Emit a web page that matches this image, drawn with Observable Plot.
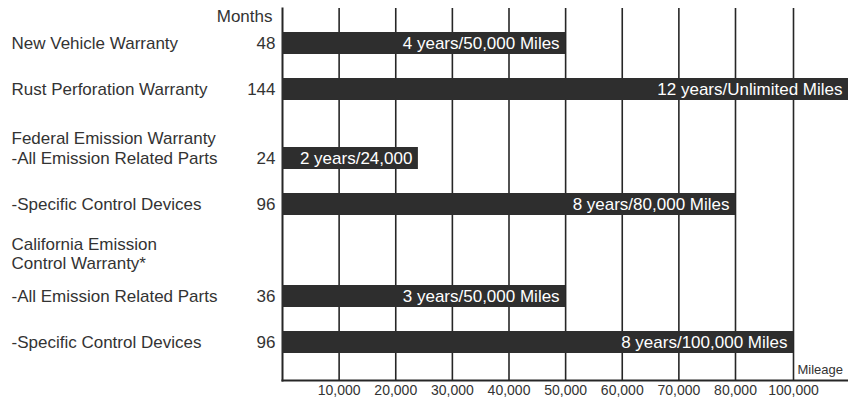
<!DOCTYPE html>
<html><head><meta charset="utf-8">
<script src="https://cdn.jsdelivr.net/npm/d3@7"></script>
<script src="https://cdn.jsdelivr.net/npm/@observablehq/plot@0.6"></script>
<style>body{margin:0;background:#fff;} svg{display:block;}</style>
</head><body><div id="chart"></div>
<script>
// ---- data ----
const rowKeys = ["nv", "rust", "fedAll", "fedSpec", "calAll", "calSpec"];
const rowLabels = ["New Vehicle Warranty", "Rust Perforation Warranty", "-All Emission Related Parts", "-Specific Control Devices", "-All Emission Related Parts", "-Specific Control Devices"];
const months = [48, 144, 24, 96, 36, 96];
const mileage = [50000, null, 24000, 80000, 50000, 100000]; // null = unlimited
const barLabels = ["4 years/50,000 Miles", "12 years/Unlimited Miles", "2 years/24,000", "8 years/80,000 Miles", "3 years/50,000 Miles", "8 years/100,000 Miles"];
const groupKeys = ["fedH", "calH"];
const groupLabels = ["Federal Emission Warranty", "California Emission\nControl Warranty*"];
const xTicks = [10000, 20000, 30000, 40000, 50000, 60000, 70000, 80000, 100000];

// ---- layout ----
const W = 848, H = 407;
const xMax = 120000; // right edge (unlimited)
const yDomain = ["nv","g1","rust","g2","fedH","fedAll","g3","fedSpec","g4","calH","g5","calAll","g6","calSpec"];
const rows = rowKeys.map((k, i) => ({key: k, label: rowLabels[i], months: months[i], x2: mileage[i] ?? xMax, barLabel: barLabels[i]}));
const groups = groupKeys.map((k, i) => ({key: k, label: groupLabels[i]}));
const ink = "#333";
const font = "'Liberation Sans', Arial, sans-serif";
const fmt = d3.format(",");

const chart = Plot.plot({
  width: W, height: H,
  marginLeft: 282, marginRight: 55, marginTop: 8, marginBottom: 27,
  style: {fontFamily: font, fontSize: "17px", color: ink, background: "white"},
  x: {type: "linear", domain: [0, 80000, 100000, xMax], range: [282, 735, 793, 848]},
  y: {type: "band", domain: yDomain, range: [28, 357], paddingInner: 0.064, paddingOuter: 0.032, axis: null},
  marks: [
    Plot.ruleX(xTicks, {stroke: "#262626", strokeWidth: 1.6}),
    Plot.frame({anchor: "left", stroke: "#262626", strokeWidth: 2}),
    Plot.frame({anchor: "bottom", stroke: "#262626", strokeWidth: 2, insetRight: -55}),
    Plot.barX(rows, {y: "key", x1: 0, x2: "x2", fill: "#2e2e2e"}),
    Plot.text(rows, {y: "key", x: "x2", text: "barLabel", textAnchor: "end", dx: -6, fill: "white", fontSize: 17}),
    Plot.text(rows, {y: "key", text: "label", frameAnchor: "left", dx: -271, textAnchor: "start", fill: ink, fontSize: 17}),
    Plot.text(rows, {y: "key", text: "months", frameAnchor: "left", dx: -7, textAnchor: "end", fill: ink, fontSize: 17}),
    Plot.text(groups, {y: "key", text: "label", frameAnchor: "left", dx: -271, dy: 3, textAnchor: "start", lineAnchor: "middle", lineHeight: 1.1, fill: ink, fontSize: 17}),
    Plot.text(["Months"], {frameAnchor: "top-left", dx: -10, dy: 8, textAnchor: "end", lineAnchor: "middle", fill: ink, fontSize: 17}),
    Plot.text(["Mileage"], {frameAnchor: "bottom-right", dx: 4, dy: -11, textAnchor: "start", lineAnchor: "middle", fontSize: 13, fill: ink}),
    Plot.axisX(xTicks, {tickFormat: fmt, tickSize: 0, tickPadding: 5, fontSize: 14, label: null, fill: ink})
  ]
});
document.getElementById("chart").append(chart);
</script>
</body></html>
